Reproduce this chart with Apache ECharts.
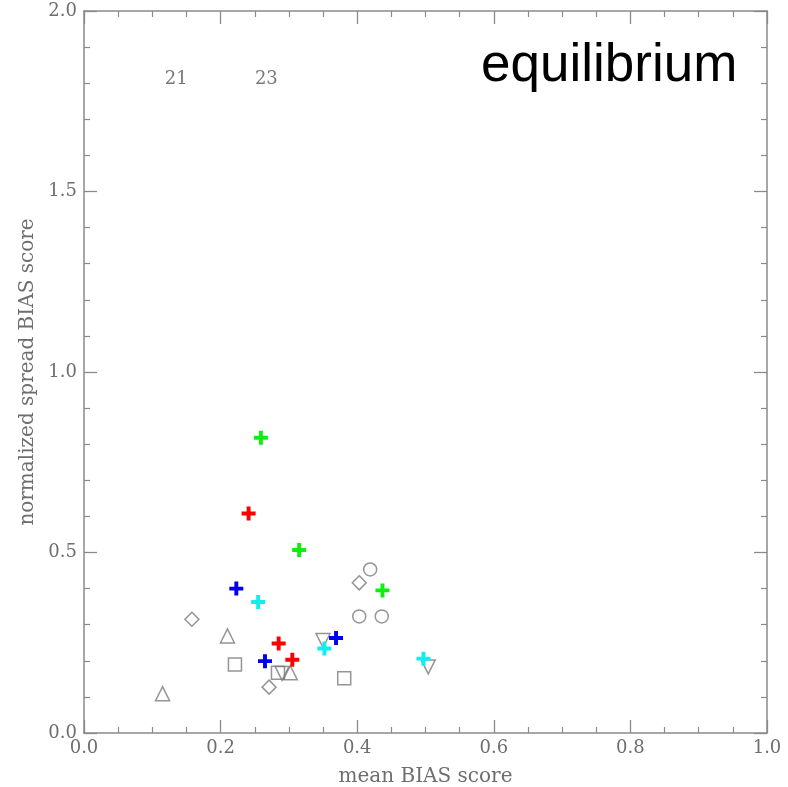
<!DOCTYPE html>
<html>
<head>
<meta charset="utf-8">
<script src="https://cdn.jsdelivr.net/npm/echarts@6/dist/echarts.min.js"></script>
<style>html,body{margin:0;padding:0;background:#fff;}#c{width:788px;height:787px;}</style>
</head>
<body>
<div id="c"></div>
<script>
// ---- data ----
const greenPts = [[0.259, 0.818], [0.315, 0.507], [0.437, 0.395]];
const redPts   = [[0.241, 0.608], [0.285, 0.248], [0.305, 0.203]];
const bluePts  = [[0.223, 0.400], [0.265, 0.199], [0.369, 0.263]];
const cyanPts  = [[0.255, 0.363], [0.352, 0.234], [0.497, 0.206]];
const diamondPts  = [[0.158, 0.315], [0.403, 0.416], [0.271, 0.127]];
const circlePts   = [[0.419, 0.453], [0.403, 0.323], [0.436, 0.323]];
const triUpPts    = [[0.210, 0.269], [0.115, 0.109], [0.302, 0.167]];
const squarePts   = [[0.221, 0.190], [0.381, 0.152], [0.284, 0.167]];
const triDownPts  = [[0.350, 0.256], [0.504, 0.183], [0.290, 0.165]];
const noteText = ['21', '23'];
const noteX = [0.135, 0.267];
const noteY = [1.81, 1.81];
const panelTitle = 'equilibrium';

const serif = 'DejaVu Serif';
const axisGray = '#8a8a8a';
const textGray = '#6e6e6e';
const plus = 'path://M3.6,0H6.4V3.6H10V6.4H6.4V10H3.6V6.4H0V3.6H3.6Z';

function openSeries(data, symbol, size, rotate) {
  return {
    type: 'scatter', xAxisIndex: 0, yAxisIndex: 0,
    data: data, symbol: symbol, symbolSize: size, symbolRotate: rotate || 0,
    itemStyle: { color: 'rgba(0,0,0,0)', borderColor: '#7a7a7a', borderWidth: 1.5 },
    emphasis: { disabled: true }, silent: true
  };
}
function crossSeries(data, color) {
  return {
    type: 'scatter', xAxisIndex: 0, yAxisIndex: 0,
    data: data, symbol: plus, symbolSize: 14,
    itemStyle: { color: color, opacity: 1 },
    emphasis: { disabled: true }, silent: true
  };
}

const axisCommon = (isX, pos, showLabel) => ({
  type: 'value', position: pos, min: 0, max: isX ? 1.0 : 2.0,
  interval: isX ? 0.2 : 0.5,
  axisLine: { show: true, onZero: false, lineStyle: { color: axisGray, width: 1.5 } },
  axisTick: { show: true, inside: true, length: 13, lineStyle: { color: axisGray, width: 1.3 } },
  minorTick: { show: true, splitNumber: isX ? 4 : 5, length: 6, lineStyle: { color: axisGray, width: 1.2 } },
  splitLine: { show: false },
  axisLabel: {
    show: showLabel, fontFamily: serif, fontSize: 18, color: textGray, margin: isX ? 6 : 7,
    formatter: v => v.toFixed(1)
  }
});

const option = {
  backgroundColor: '#fff',
  animation: false,
  grid: { left: 84, right: 21, top: 11, bottom: 54, containLabel: false, outerBoundsMode: 'none' },
  xAxis: [
    Object.assign(axisCommon(true, 'bottom', true), {
      name: 'mean BIAS score', nameLocation: 'middle', nameGap: 34,
      nameTextStyle: { fontFamily: serif, fontSize: 20, color: textGray }
    }),
    axisCommon(true, 'top', false)
  ],
  yAxis: [
    Object.assign(axisCommon(false, 'left', true), {
      name: 'normalized spread BIAS score', nameLocation: 'middle', nameGap: 45,
      nameTextStyle: { fontFamily: serif, fontSize: 20, color: textGray }
    }),
    axisCommon(false, 'right', false)
  ],
  series: [
    openSeries(diamondPts, 'diamond', 14),
    openSeries(circlePts, 'circle', 13),
    openSeries(triUpPts, 'triangle', 14),
    openSeries(squarePts, 'rect', 13),
    openSeries(triDownPts, 'triangle', 14, 180),
    crossSeries(greenPts, '#10ee10'),
    crossSeries(redPts, '#ff0000'),
    crossSeries(bluePts, '#0000f0'),
    crossSeries(cyanPts, '#10eeee'),
    {
      type: 'scatter', xAxisIndex: 0, yAxisIndex: 0, symbol: 'circle', symbolSize: 1, silent: true,
      itemStyle: { color: 'rgba(0,0,0,0)' },
      data: noteText.map((t, i) => ({ value: [noteX[i], noteY[i]], name: t })),
      label: { show: true, position: 'inside', formatter: p => p.name,
        fontFamily: serif, fontSize: 18, color: '#555' }
    },
    { type: 'scatter', xAxisIndex: 1, yAxisIndex: 1, data: [] }
  ],
  graphic: [{
    type: 'text', left: 481, top: 40,
    style: { text: panelTitle, fontFamily: 'Liberation Sans', fontSize: 53, fill: '#000' }
  }]
};
const chart = echarts.init(document.getElementById('c'), null, { renderer: 'canvas' });
chart.setOption(option);
</script>
</body>
</html>
